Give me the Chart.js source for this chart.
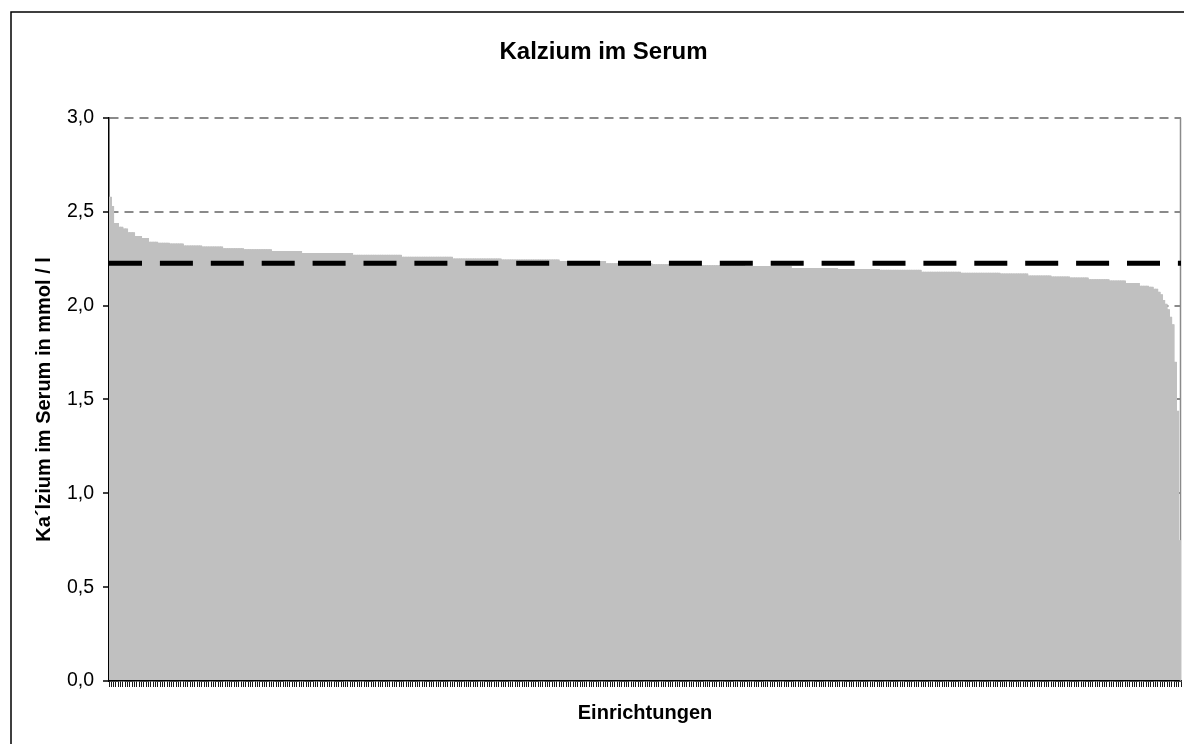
<!DOCTYPE html>
<html>
<head>
<meta charset="utf-8">
<script src="https://cdn.jsdelivr.net/npm/chart.js@4/dist/chart.umd.min.js"></script>
<style>
  html, body { margin: 0; padding: 0; background: #fff; overflow: hidden; }
  #wrap { width: 1184px; height: 744px; }
</style>
</head>
<body>
<div id="wrap"><canvas id="c" width="1184" height="744"></canvas></div>
<script>
// Calcium in serum per institution (mmol/l), sorted descending
const calcium = [
2.58,2.53,
2.44,2.44,
2.42,2.42,
2.41,2.41,
2.39,2.39,2.39,
2.37,2.37,2.37,
2.36,2.36,2.36,
2.34,2.34,2.34,2.34,
2.335,2.335,2.335,2.335,2.335,
2.33,2.33,2.33,2.33,2.33,2.33,
2.32,2.32,2.32,2.32,2.32,2.32,2.32,2.32,
2.315,2.315,2.315,2.315,2.315,2.315,2.315,2.315,2.315,
2.305,2.305,2.305,2.305,2.305,2.305,2.305,2.305,2.305,
2.30,2.30,2.30,2.30,2.30,2.30,2.30,2.30,2.30,2.30,2.30,2.30,
2.29,2.29,2.29,2.29,2.29,2.29,2.29,2.29,2.29,2.29,2.29,2.29,2.29,
2.28,2.28,2.28,2.28,2.28,2.28,2.28,2.28,2.28,2.28,
2.28,2.28,2.28,2.28,2.28,2.28,2.28,2.28,2.28,2.28,2.28,2.28,
2.27,2.27,2.27,2.27,2.27,2.27,2.27,2.27,2.27,2.27,
2.27,2.27,2.27,2.27,2.27,2.27,2.27,2.27,2.27,2.27,2.27,
2.26,2.26,2.26,2.26,2.26,2.26,2.26,2.26,2.26,2.26,
2.26,2.26,2.26,2.26,2.26,2.26,2.26,2.26,2.26,2.26,2.26,2.26,
2.25,2.25,2.25,2.25,2.25,2.25,2.25,2.25,2.25,2.25,
2.25,2.25,2.25,2.25,2.25,2.25,2.25,2.25,2.25,2.25,2.25,
2.245,2.245,2.245,2.245,2.245,2.245,2.245,2.245,2.245,2.245,
2.245,2.245,2.245,2.245,2.245,2.245,2.245,2.245,2.245,2.245,
2.245,2.245,2.245,2.245,2.245,
2.237,2.237,2.237,2.237,2.237,2.237,2.237,2.237,2.237,2.237,
2.237,2.237,2.237,2.237,2.237,2.237,2.237,2.237,2.237,2.237,
2.225,2.225,2.225,2.225,2.225,2.225,2.225,2.225,2.225,2.225,
2.225,2.225,2.225,2.225,2.225,2.225,2.225,2.225,2.225,2.225,
2.22,2.22,2.22,2.22,2.22,2.22,2.22,2.22,2.22,2.22,
2.22,2.22,2.22,2.22,2.22,2.22,2.22,2.22,2.22,2.22,
2.215,2.215,2.215,2.215,2.215,2.215,2.215,2.215,2.215,2.215,
2.215,2.215,2.215,2.215,2.215,2.215,2.215,2.215,2.215,2.215,
2.21,2.21,2.21,2.21,2.21,2.21,2.21,2.21,2.21,2.21,
2.21,2.21,2.21,2.21,2.21,2.21,2.21,2.21,2.21,2.21,
2.20,2.20,2.20,2.20,2.20,2.20,2.20,2.20,2.20,2.20,
2.20,2.20,2.20,2.20,2.20,2.20,2.20,2.20,2.20,2.20,
2.195,2.195,2.195,2.195,2.195,2.195,2.195,2.195,2.195,2.195,
2.195,2.195,2.195,2.195,2.195,2.195,2.195,2.195,
2.19,2.19,2.19,2.19,2.19,2.19,2.19,2.19,2.19,2.19,
2.19,2.19,2.19,2.19,2.19,2.19,2.19,2.19,
2.18,2.18,2.18,2.18,2.18,2.18,2.18,2.18,2.18,2.18,
2.18,2.18,2.18,2.18,2.18,2.18,2.18,
2.175,2.175,2.175,2.175,2.175,2.175,2.175,2.175,2.175,2.175,
2.175,2.175,2.175,2.175,2.175,2.175,2.175,
2.17,2.17,2.17,2.17,2.17,2.17,2.17,2.17,2.17,2.17,2.17,2.17,
2.16,2.16,2.16,2.16,2.16,2.16,2.16,2.16,2.16,2.16,
2.154,2.154,2.154,2.154,2.154,2.154,2.154,2.154,
2.149,2.149,2.149,2.149,2.149,2.149,2.149,2.149,
2.14,2.14,2.14,2.14,2.14,2.14,2.14,2.14,2.14,
2.133,2.133,2.133,2.133,2.133,2.133,2.133,
2.12,2.12,2.12,2.12,2.12,2.12,
2.106,2.106,2.106,2.106,
2.10,2.10,
2.09,2.09,
2.074,2.06,2.03,2.01,1.98,1.94,1.90,1.70,1.44,0.75
];

// Institutions (unnamed categories)
const institutions = calcium.map((_, i) => String(i + 1));

// Reference line (mean) in mmol/l
const meanValue = 2.225;

// Y tick labels
const yTickValues = [0, 0.5, 1.0, 1.5, 2.0, 2.5, 3.0];
const yTickLabels = ['0,0', '0,5', '1,0', '1,5', '2,0', '2,5', '3,0'];

const chartTitle = 'Kalzium im Serum';
const xTitle = 'Einrichtungen';
const yTitle = 'Ka\u00B4lzium im Serum in mmol / l';

const FONT = "'Liberation Sans', Arial, Helvetica, sans-serif";

const framePlugin = {
  id: 'frame',
  beforeDraw(chart) {
    const ctx = chart.ctx;
    ctx.save();
    ctx.fillStyle = '#fff';
    ctx.fillRect(0, 0, chart.width, chart.height);
    ctx.strokeStyle = '#000';
    ctx.lineWidth = 1.5;
    ctx.strokeRect(11, 12, 1400, 1000);
    ctx.restore();
  },
  beforeDatasetsDraw(chart) {
    const {ctx, chartArea} = chart;
    ctx.save();
    ctx.strokeStyle = '#8a8a8a';
    ctx.lineWidth = 1.5;
    ctx.beginPath();
    ctx.moveTo(chartArea.right - 0.5, chartArea.top);
    ctx.lineTo(chartArea.right - 0.5, chartArea.bottom);
    ctx.stroke();
    ctx.restore();
  }
};

const meanLinePlugin = {
  id: 'meanLine',
  afterDatasetsDraw(chart) {
    const {ctx, chartArea, scales} = chart;
    const y = scales.y.getPixelForValue(meanValue);
    ctx.save();
    ctx.strokeStyle = '#000';
    ctx.lineWidth = 5;
    ctx.setLineDash([33, 17.9]);
    ctx.lineCap = 'butt';
    ctx.beginPath();
    ctx.moveTo(chartArea.left, y);
    ctx.lineTo(chartArea.right, y);
    ctx.stroke();
    ctx.restore();
  }
};

new Chart(document.getElementById('c'), {
  type: 'bar',
  data: {
    labels: institutions,
    datasets: [{
      label: 'Kalzium',
      data: calcium,
      backgroundColor: '#C0C0C0',
      borderColor: '#C0C0C0',
      borderWidth: { left: 0.5, right: 0.5, top: 0, bottom: 0 },
      borderSkipped: 'start',
      inflateAmount: 0.7,
      barPercentage: 1.0,
      categoryPercentage: 1.0
    }]
  },
  options: {
    responsive: false,
    animation: false,
    devicePixelRatio: 1,
    layout: { padding: { top: 13, left: 26, right: 3, bottom: 19 } },
    plugins: {
      legend: { display: false },
      tooltip: { enabled: false },
      title: {
        display: true,
        text: chartTitle,
        color: '#000',
        font: { family: FONT, size: 24, weight: 'bold', lineHeight: 1.2 },
        padding: { top: 25, bottom: 51 }
      }
    },
    scales: {
      x: {
        type: 'category',
        offset: true,
        grid: {
          display: true,
          offset: true,
          drawOnChartArea: false,
          drawTicks: true,
          tickLength: 6,
          tickColor: '#1a1a1a',
          tickWidth: 1
        },
        border: { display: true, color: '#000', width: 1.5 },
        ticks: { display: false },
        title: {
          display: true,
          text: xTitle,
          color: '#000',
          font: { family: FONT, size: 20, weight: 'bold', lineHeight: 1.2 },
          padding: { top: 14, bottom: 0 }
        },
        afterFit(scale) { scale.height = 44; }
      },
      y: {
        min: 0,
        max: 3,
        afterBuildTicks(scale) {
          scale.ticks = yTickValues.map(v => ({ value: v }));
        },
        ticks: {
          color: '#000',
          padding: 9,
          font: { family: FONT, size: 19.5 },
          callback(value) {
            const i = yTickValues.findIndex(v => Math.abs(v - value) < 1e-9);
            return i >= 0 ? yTickLabels[i] : '';
          }
        },
        grid: {
          display: true,
          color: '#8a8a8a',
          lineWidth: 2,
          drawTicks: true,
          tickLength: 6,
          tickColor: '#000',
          tickWidth: 1.5,
          tickBorderDash: []
        },
        border: { display: true, color: '#000', width: 1.5, dash: [9, 6] },
        title: {
          display: true,
          text: yTitle,
          color: '#000',
          font: { family: FONT, size: 20, weight: 'bold', lineHeight: 1.2 },
          padding: { top: 6, bottom: 10 }
        },
        afterFit(scale) { scale.width = 83; }
      }
    }
  },
  plugins: [framePlugin, meanLinePlugin]
});
</script>
</body>
</html>
